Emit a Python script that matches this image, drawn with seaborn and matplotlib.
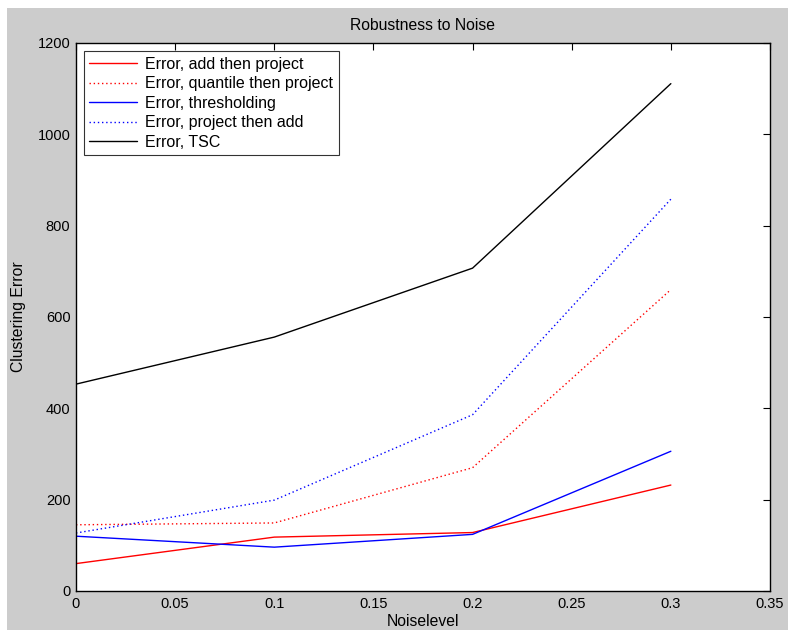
import matplotlib
matplotlib.use("Agg")
import matplotlib.pyplot as plt
import seaborn as sns
from matplotlib.patches import Rectangle

# Data
noise = [0, 0.1, 0.2, 0.3]
add_then_project = [60, 118, 128, 232]
quantile_then_project = [145, 149, 270, 660]
thresholding = [120, 96, 124, 306]
project_then_add = [127, 199, 386, 858]
tsc = [453, 556, 707, 1111]

series = [
    ("Error, add then project", add_then_project, "#ff0000", "-"),
    ("Error, quantile then project", quantile_then_project, "#ff0000", (0, (1, 2))),
    ("Error, thresholding", thresholding, "#0000ff", "-"),
    ("Error, project then add", project_then_add, "#0000ff", (0, (1, 2))),
    ("Error, TSC", tsc, "#000000", "-"),
]

sns.set_style("white")
plt.rcParams["font.family"] = ["Liberation Sans", "DejaVu Sans"]
plt.rcParams["text.color"] = "black"
plt.rcParams["axes.labelcolor"] = "black"

fig = plt.figure(figsize=(7.88, 6.3), dpi=100, facecolor="white")
# matlab-style grey figure background (small white margin top/left)
fig.patches.append(Rectangle((7 / 788, 0), 1, (630 - 8) / 630,
                             transform=fig.transFigure, facecolor="#cccccc",
                             edgecolor="none", zorder=-1))
ax = fig.add_axes([76 / 788, 39 / 630, 694 / 788, 548 / 630])
ax.set_facecolor("white")

for label, vals, color, ls in series:
    sns.lineplot(x=noise, y=vals, color=color, linestyle=ls, linewidth=1.0,
                 label=label, ax=ax)

ax.set_xlim(0, 0.35)
ax.set_ylim(0, 1200)
ax.set_xticks([0, 0.05, 0.1, 0.15, 0.2, 0.25, 0.3, 0.35])
ax.set_xticklabels(["0", "0.05", "0.1", "0.15", "0.2", "0.25", "0.3", "0.35"])
ax.set_yticks(range(0, 1201, 200))
ax.tick_params(direction="in", length=5, width=0.8, top=True, right=True,
               labelsize=10.5, colors="black", pad=4)
for sp in ax.spines.values():
    sp.set_color("black")
    sp.set_linewidth(1.0)

ax.set_title("Robustness to Noise", fontsize=11.3, pad=9)
ax.set_xlabel("Noiselevel", fontsize=11.3, labelpad=2.5)
ax.set_ylabel("Clustering Error", fontsize=11.3, labelpad=8)

leg = ax.legend(loc="upper left", bbox_to_anchor=(0.011, 0.985), fontsize=11.5,
                frameon=True, fancybox=False, handlelength=3.0,
                borderpad=0.35, labelspacing=0.28, handletextpad=0.5,
                borderaxespad=0)
leg.get_frame().set_edgecolor("black")
leg.get_frame().set_linewidth(0.8)

fig.savefig("out.png", dpi=100, facecolor=fig.get_facecolor())
